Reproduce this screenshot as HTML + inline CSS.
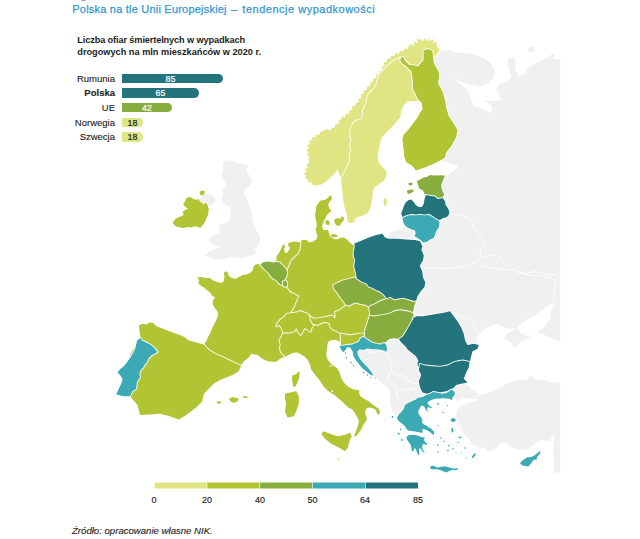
<!DOCTYPE html>
<html lang="pl">
<head>
<meta charset="utf-8">
<title>Polska na tle Unii Europejskiej – tendencje wypadkowości</title>
<style>
html,body{margin:0;padding:0;background:#fff;}
body{width:640px;height:539px;position:relative;overflow:hidden;font-family:"Liberation Sans",sans-serif;color:#222;}
.abs{position:absolute;white-space:nowrap;}
#title{left:72.3px;top:2.4px;font-size:11px;line-height:14px;color:#3397d0;-webkit-text-stroke:.25px #3397d0;letter-spacing:.21px;}
#head{left:77.3px;top:35.2px;font-size:9.2px;line-height:11.6px;font-weight:bold;color:#1d1d1b;}
.lab{right:525px;-webkit-text-stroke:.12px;font-size:9.5px;line-height:12px;color:#1d1d1b;text-align:right;}
.bar{left:122px;height:9.4px;border-radius:0 4.7px 4.7px 0;font-size:8.8px;line-height:11px;color:#fff;text-align:center;-webkit-text-stroke:.2px;overflow:hidden;}
.tick{-webkit-text-stroke:.15px;font-size:9px;line-height:11px;color:#1d1d1b;width:30px;text-align:center;top:494.5px;}
#src{-webkit-text-stroke:.12px;left:72px;top:524.6px;font-size:9.6px;line-height:11px;font-style:italic;color:#1d1d1b;}
svg{position:absolute;left:0;top:0;}
svg path{stroke:#fff;stroke-width:1.8;stroke-linejoin:round;paint-order:stroke fill;}
svg path.n{stroke:none;}
svg path.l{fill:none;stroke-width:.8;}
</style>
</head>
<body>
<svg width="640" height="539" viewBox="0 0 640 539">
<path d="M433.8,56.2 435.5,53.8 438.8,51.2 447.5,50 457.5,52.5 470,53.8 480,56.2 490,62.5 495,70 493.8,77.5 488.8,83.8 478.8,86.2 467.5,83.8 460,81.2 455,78.8 457.5,82.5 463.8,86.2 468.8,92.5 471.2,100 473.8,106.2 480,107.5 486.2,111.2 491.2,112.5 492.5,107.5 487.5,102.5 483.8,100 492.5,101.2 501.2,100 498.8,93.8 496.2,88.8 500,83.8 506.2,81.2 511.2,77.5 510,71.2 507.5,65 508.8,58.8 513.8,57.5 516.2,62.5 515,70 518.8,76.2 525,73.8 527.5,68.8 532.5,65 538.8,61.2 545,58.8 550,56.2 552.5,52.5 555,55 553.8,58.8 560.3,59.5 560.3,341.5 555,339.4 550,337.5 545,335 540,333.1 537.5,332.5 541.2,330 545,326.2 547.5,321.9 551.2,318.8 550,315 551.2,310 553.8,305.6 551.2,303.8 546.2,306.9 541.2,310.6 535,315 528.8,318.8 522.5,323.1 517.8,327.2 520,332.5 523.8,335 528.1,336.5 532.5,335.2 535,334 528.1,338.1 525,340 521.2,341.9 518.1,345 515.6,348.1 513.1,346.9 511.9,343.1 507.5,340.6 504.4,338.1 504.4,337.2 508.1,333.1 511.9,331.2 515,329.8 514.4,327.8 510,328.8 506.2,327.8 502.5,326.2 502.5,327.5 497.5,323.8 492.5,325 485,328.8 480,333.8 476.2,340 478.8,345 470,345 440,335 410,322 403,300 405,270 412,240 420,241.9 416.2,240 408.8,240 401.2,240 395,239.4 390,240.4 387.5,236.9 389.4,233.8 392.5,231.2 397.5,230 402.5,229.4 405,225.6 408.8,222.5 410,225 430,200 440,182 445,177 450,173.8 456.2,168.8 458,167 456.2,165.5 447.5,162.5 438.8,161.2 430,150 425,100 430,60Z" fill="#f0f0f0" class="n"/>
<path d="M372.5,375.3 368.8,371.6 364.7,367.5 361.2,363.6 358.1,359.7 355.8,355.8 355,351.6 361.2,346.9 367.5,345.3 376.9,346.4 383.1,346.9 387,346.9 389.4,338.3 394.1,336.7 399.5,336.7 404.2,339.1 408.9,346.9 415.2,353.9 420.6,360.9 420.6,367.2 428,375 430,390 428,402 405,415 396.9,416.9 395,414.4 392.5,410.6 390.6,406.2 389.8,401.2 390,396.2 389.4,391.9 387.5,388.1 384.4,385 380.6,381.9 376.9,378.1 373.1,374.4Z" fill="#f0f0f0" class="n"/>
<path d="M450,388.8 455,385 462.5,383.8 467.5,385 472.5,390 480,395 490,392.5 500,387.5 508.8,382.5 518.8,380 527.5,379.5 531.2,375 533.8,378.8 542.5,380 552.5,382.5 560.3,382.5 560.3,472.5 554.2,472.5 554.2,460 553,450 554.2,440 553.8,433.8 552.5,435 550,441.2 543.8,440 538.8,440.6 535,443.8 528.8,448.8 522.5,450 516.2,448.8 510,446.2 505,442.5 500,443.8 497.5,447.5 493.8,450 488.8,451.2 483.8,447.5 480,448.8 476.2,446.2 471.2,443.8 468.8,438.8 465,435 461.2,430 460,425 457.5,420 456.2,413.8 457.5,410 461.2,406.2 466.2,403.8 473.8,401.2 478.8,399.2 470,398.2 462.5,398.8 457.5,401.2 455,397.5 452.5,393.8Z" fill="#f0f0f0" class="n"/>
<path d="M223.8,161.2 228.8,160 235,162.5 242.5,163.8 248.8,165 246.2,171.2 250,176.2 252.5,181.2 248.8,186.2 243.8,191.2 245,196.2 248.8,203.8 251.2,211.2 252.5,217.5 253.8,223.8 256.2,230 260,236.2 260,242.5 256.2,247.5 253.8,250 257.5,252.5 250,256.2 241.2,258 232.5,257 225,258.8 217.5,260 210,257.5 203.8,255 210,251.2 216.2,248.8 221.2,246.2 216.2,245 210,242.5 208.8,238.8 213.8,235 218.8,233.8 220,228.8 217.5,225 223.8,223.8 228.8,221.2 230,216.2 231.2,211.2 228.8,206.2 223.8,203.8 221.2,198.8 223.8,193.8 222.5,188.8 226.2,185 223.8,180 221.2,175 223.8,170 222.5,165Z" fill="#f0f0f0" class="n"/>
<path d="M202.5,195.6 206.2,193.8 210.6,194.4 214.4,197.5 215,201.9 212.5,205 208.8,205.6 207.5,204.4 205.6,202.2 203.8,204 201.2,202.2 200,200 201.2,197.5Z" fill="#f0f0f0" class="n"/>
<path d="M341.2,177.5 340,176.2 338.8,172.5 337.5,169.4 335.6,172.5 332.5,175.6 329.4,178.8 325,182.5 320,185 315,185.6 312.5,185.1 311.1,181.8 308.1,182.6 307.9,179 304.8,178.8 306.3,175.6 303.6,173.9 306.7,172.1 304.8,169 308,167.2 306.2,164.2 309.7,163.1 308.3,160 309.5,156.6 306.4,155.3 308.6,152.5 306,150.3 309.1,148.3 307,145.4 310.3,143.8 308.7,140.6 312.1,140.6 312.3,137 315.7,137.6 316.5,134.1 320,135.1 320,132.5 325,130 327.4,129.1 330.3,130.8 331.8,127.7 335.1,127.5 335.3,124.1 338.6,123.9 338.6,120.6 341.5,119.1 341.6,116.6 344.9,117.2 345.7,113.9 349,113.9 349.3,110.6 352.4,109.5 352,106.3 355.3,106.3 355.8,103 358.9,102.2 358.4,98.9 361.6,97.9 360.9,94.6 364.1,93.7 363.6,90.4 366.9,90 367.1,86.7 370.4,86.1 370.1,82.8 373.3,82 373,78.7 376.3,77.9 375.8,74.6 378.9,74.4 379.5,71.1 382.5,69.9 381.5,66.8 384.5,65.4 383.6,62.1 386.9,61.9 387.1,58.6 390.2,58.7 391.2,55.6 394.5,56.2 395.5,53 398.8,53.9 400,50.8 403.2,51.6 404.4,48.4 407.6,49 408.8,46.2 408.8,46.2 410.2,44.6 414.2,46 413.7,41.8 417.8,42.9 416.8,38.8 420.9,39.8 420.9,37.5 422.3,41.5 425,38.3 428,41.3 429.3,37.3 429.7,41 433.4,39.1 433.5,43.3 437.2,41.6 436.2,45.7 440.3,44.7 436.6,46.8 440,49.4 439.5,50 436.5,55 433.8,56.2 427.5,60 417.5,71.2 405,67.5 404.5,57.5 399,60 394,63.8 390.2,67.5 385.2,72.5 385.2,71.9 382.8,75 382.1,78.8 380.9,82.5 379.6,86.2 376.5,90 372.8,93.8 370.9,98.1 370.2,103.1 368.4,107.5 366.5,111.2 367.1,115 365.9,118.8 361.5,120 357.1,123.1 354.6,128.8 354,137 354.6,135 355.2,140 354,145 355.2,150 353.4,155 354,160 352.1,165 349.6,170 347.8,173.8 345.9,177.5Z" fill="#dfe583"/>
<path d="M341.9,177.5 343.8,173.8 345.6,170 348.1,165 350,160 349.4,155 351.2,150 350,145 351.2,140 350.6,135 350,137 350.6,128.8 353.1,123.1 357.5,120 361.9,118.8 363.1,115 362.5,111.2 364.4,107.5 366.2,103.1 366.9,98.1 368.8,93.8 372.5,90 375.6,86.2 376.9,82.5 378.1,78.8 378.8,75 381.2,71.9 381.2,72.5 386.2,67.5 390,63.8 395,60 400.5,57.5 400.5,57.5 405,62.5 411.2,67.5 416.2,80 417.5,92.5 420,101.2 407.5,101.2 403.8,105 401.2,111.2 400,117.5 395,123.8 390,128.8 385.6,133.1 381.9,137.5 380,142.5 379.4,147.5 378.1,152.5 377.5,157.5 378.8,162.5 381.9,166.2 385,169.4 386.9,172.5 386.2,176.2 384.4,180 381.2,182.5 377.5,185.2 374.4,187.5 373.1,190 372.5,195 371.9,200 371.2,205 370,208.8 368.1,212.5 364.4,215 360,216.2 355.6,218.1 354.4,221.9 351.2,223.1 348.1,222.5 347.5,218.8 346.2,212.5 344.4,206.2 343.1,200 342.5,193.8 341.9,187.5 341.2,181.2 341.2,177.5Z" fill="#dfe583"/>
<path d="M383.8,198.8 385.5,198 387,201.2 386.2,205.5 384.5,206.5 383.5,202.5Z" fill="#dfe583" class="n"/>
<path d="M400.8,57.8 403.3,57.1 405.2,60.9 409,64.7 413.4,65.3 417.9,66.6 420.4,63.4 423.5,60.3 423.5,50.8 427.3,48.9 432.4,50.8 433,55.2 433.6,61.5 435.5,66.6 438.7,71.6 439.3,76.7 438,83 440.6,88 443.1,93.1 444.4,98 438.8,85 442.5,92.5 445,100 446.2,107.5 448.8,116.2 453.8,123.8 457.5,130 456.2,137.5 451.2,146.2 446.2,152.5 445,157.4 442.2,159.5 438,161.6 433.8,163.8 429.5,165.4 425.3,167.3 421.1,168.7 415.8,170.4 414.1,168 411.3,165.2 406.3,162.3 404.2,156.7 403.5,148.3 403.1,147 402.5,138.8 403.8,134.4 406.9,131.2 410,127.5 413.8,122.5 417.5,117.5 420,112.5 422.5,109.4 421.9,103.1 421.2,102.5 417.5,98.8 415.6,93.8 413.4,90.6 412.6,85.5 413.1,81.7 412.2,76.7 411.5,71.6 408.4,68.5 405.2,65.3 402.1,63.4 400.2,60.3Z" fill="#b1c534"/>
<path d="M186.9,197.5 190,196.9 193.1,198.8 196.2,200 198.1,198.8 199.4,200.6 201.2,202.5 203.8,204.4 205.6,202.5 207.5,205 208.8,209.4 208.1,214.4 206.2,218.8 205,221.9 202.5,225.6 200,228.1 198.1,226.9 195,226.2 191.2,227.5 187.5,226.9 183.8,228.1 180,227.5 175.6,226.2 172.5,222.5 175,219.4 177.5,217.5 181.2,216.2 183.8,214.4 182.5,211.9 185,210 188.1,208.8 185.6,206.9 183.1,204.4 185,201.2Z" fill="#b1c534" class="n"/>
<path d="M199.4,191.9 201.9,190.6 205,191.2 204.4,193.8 202.5,195.6 200,194.4Z" fill="#b1c534" class="n"/>
<path d="M260.5,264.8 258.8,264 255.6,264.4 253.8,266.2 252.5,270.6 250,273.1 246.2,274.4 242.5,275 238.8,276.9 235.6,278.8 231.9,278.1 228.8,276.2 228.1,273.1 226.2,271.2 224,272.5 224.4,276.9 223.8,281.2 221.2,283.1 216.9,281.9 213.1,280.6 210,278.1 205.6,278.1 201.2,276.9 197.5,277.5 199.4,280.6 198.1,283.1 200.6,285.6 203.8,287.5 206.9,290 210,292.5 211.9,295.6 215,297.5 213.1,300 212.5,303.8 214.4,307.5 216.9,310.6 218.1,313.8 217.5,317 217.5,316.9 216.2,320 214.4,323.8 212.5,327.5 210.6,331.9 208.1,336.9 206.2,341.2 204.4,343.8 208.8,352.5 222.5,360 236.2,366.2 241.2,365.5 243.8,361.2 248.8,357.5 251.2,353.8 257.5,355 262.5,358.8 267.5,361.2 276.2,362 280,358.8 285.6,356.5 290,355 290,332.5 287.5,330 286.2,316.2 300,312.5 305,295 290,292.5 287.5,286.2 280,283.8 275,278.8 268.8,273.8 265.5,268.8 261.2,263Z" fill="#b1c534"/>
<path d="M292.5,375 295.6,374.4 298.5,371.5 299.5,371.9 299.4,375 298.8,378.8 297.5,382.5 295.6,386.2 293.1,386.9 292.5,382.5 291.9,378.1Z" fill="#b1c534" class="n"/>
<path d="M203.8,344.5 196.2,342.5 187.5,340 186.2,338.1 181.2,335.6 176.2,333.8 171.2,331.9 166.2,330 161.2,328.1 156.2,326.2 153.1,323.1 150,322.5 146.2,324.4 142.5,323.8 138.8,325.6 139.4,330 140,334.4 140.6,338.1 131.2,352.5 123.8,372.5 127.5,392.5 130,396.2 137.5,405 140,415 150,414.5 160,413.8 170,416.2 178.8,419.5 186.2,415 196.2,407.5 202.5,401.2 203,396.2 205,392.5 208.8,388.8 213.8,383.8 220,380 226.2,377.5 232.5,375 238.8,371.2 241.2,365.5 236.2,363.8 228.8,360 222.5,357 215,353.8 208.8,350Z" fill="#b1c534"/>
<path d="M228.8,398.8 232.5,397 238.8,398.8 237.5,401.2 233.8,403 230.5,401.2Z" fill="#b1c534" class="n"/>
<path d="M242.5,396 247,396.5 247.5,398 243.8,398Z" fill="#b1c534" class="n"/>
<path d="M216.2,402 219.5,401 221.5,402.5 218.5,404Z" fill="#b1c534" class="n"/>
<path d="M140.6,338.1 141.9,340.6 145,341.9 148.8,343.8 152.5,346.2 155.6,349.4 157.5,351.9 154.4,353.8 151.2,355.6 148.8,358.1 146.9,361.9 144.4,365 143.1,368.1 140.6,370 139.4,373.8 140,377.5 138.1,380 136.9,382 136.2,388.8 132.5,391.2 130,396.2 123.8,396.2 116.2,394.5 118.8,388.8 121.2,383.8 122.5,378.8 120,375 117.5,372.5 120.6,368.8 123.8,366.2 126.9,362.5 130,358.1 132.5,353.8 135,349.4 136.2,344.4 137.5,340Z" fill="#3baab5"/>
<path d="M300.6,242.5 301.9,240 305,239.8 308.1,241 308.8,242.5 311.2,241.9 312.5,241.9 315,240 316.9,238.8 318.1,230 328.1,230 329.8,236.2 331.2,237.5 336.2,239.4 340,238.1 343.8,237.5 347.5,240 350,242.5 352.5,245 355,244.6 360,250 360,305 350,306.2 340,320 313.8,318.8 307.5,316.2 300,315 292.5,316.2 290,314.5 294.5,307.5 297.5,300 298.8,296.2 300,296.2 296.9,294.4 293.1,292.5 290,290.6 287.5,287.5 286.2,285 285.2,285 285.2,280 285.9,273.8 285.4,270 287.1,266.2 289.6,260 294,255.6 298.4,250 299.6,242.5Z" fill="#b1c534"/>
<path d="M331.2,195 328.1,197.5 325,200 320.6,200.6 318.8,202.5 316.2,206.2 315.6,211.2 315,216.2 316.2,221.2 316.9,226.2 315.6,228.8 316.2,232.5 317.5,235.6 329.4,235.9 325,233.1 323.1,229.4 321.9,226.2 323.1,223.1 325,218.8 326.9,215 329.4,212.5 331.9,210.6 330,209.4 328.1,205 329.4,201.9 331.9,199.4Z" fill="#b1c534" class="n"/>
<path d="M325.6,220.6 328.1,220 330,223.1 328.8,225 326.2,224.8 325.4,222.5Z" fill="#b1c534" class="n"/>
<path d="M334.4,219.4 337.5,218.1 340,218.8 341.9,216.2 343.8,216.9 343.8,220.6 341.9,221.9 340.6,224.4 338.8,226.2 336.2,225 334.4,222.5Z" fill="#b1c534" class="n"/>
<path d="M330.6,235 333.8,234 337.2,235 337.5,236.9 333.8,237.2 331.2,236.9Z" fill="#b1c534" class="n"/>
<path d="M273.8,262.2 276.5,259.8 276.5,256.2 278.5,253.8 280.6,250 282.8,245.2 284,244 285,246.2 284,250 285.2,252.8 287.1,253.1 289,250 290.2,247.5 288.5,246.2 288.1,243.1 290,242.5 293.8,241.5 298.1,241.9 300.6,242.5 300,246.2 299.4,250 297.5,253.8 295,255.6 293.1,258.1 290.6,260 289.4,263.1 288.1,266.2 286.9,269.4 286.2,270 284.4,266.9 281.2,263.8 278.1,262.2Z" fill="#b1c534"/>
<path d="M260.5,264.8 262.5,262.5 265.6,261.7 269.5,261.7 273.4,262.5 276.6,261.7 279.7,262.5 282,264.8 284.4,267.2 286.3,269.5 287.1,272.7 286.7,275.8 285.5,278.1 284.4,280.5 283.2,282.8 282,285.2 280.1,284.4 277.7,282 275.8,279.7 273.4,278.9 271.5,277 269.5,274.2 267.6,271.9 265.2,269.9 262.9,267.6Z" fill="#88ad3f"/>
<path d="M283,281.6 285.5,280.3 287.2,282.7 287,285.9 284.4,286.9 282.7,284.5Z" fill="#88ad3f"/>
<path d="M285.6,356.5 292.5,353.1 296.9,352.5 297.5,352.5 297.5,352.5 301.2,354.4 305,356.9 308.1,360.6 310,365 311.2,369.4 313.8,373.1 316.9,376.9 319.4,380 321.9,383.8 324.4,387.5 327.5,390.6 331.2,393.1 335,395.6 338.8,398.8 342.5,401.9 345.6,405 348.8,408.1 351.2,408.8 353.8,411.2 355.6,414.4 357.5,417.5 358.8,421.2 358.1,425 356.9,428.8 355.6,432 354,436.5 357,435.5 359.4,432 361.2,429.4 362.5,426.2 364.4,423.1 366.2,421.2 366.9,418.1 365.6,415 365,411.9 366.2,408.8 368.8,407.5 372.5,408.1 375.6,410 376.9,413.1 378.8,415 380,411.9 378.8,408.8 375,406.2 370.6,403.1 367.5,400.6 363.8,398.8 360.6,396.2 358.8,393.1 359.4,390 358.1,390 353.8,389.4 349.4,387.5 345.6,384.4 342.5,380.6 340.6,376.2 339.4,371.9 336.9,368.1 333.1,365.6 330,362.5 327.5,359.4 326.2,355 326.9,350 327.5,345 328,342 331.2,340 336.2,340 341.2,342.5 343.8,337.5 343.8,330 335,328.8 327.5,321.2 320,321.2 313.1,320.6 307.5,320 301.2,320 288.8,323.8 283.1,332.5 281.9,336.2 279.4,340 280.6,344.4 280,348.8 281.2,352.5 284.4,355.6Z" fill="#b1c534"/>
<path d="M321.2,433.8 323.8,431.2 330,433.8 337.5,436.2 345,435 350,432.5 351.8,436.2 349.2,441.2 348,447.5 345,451.2 338.8,447.5 331.2,443.8 325,438.8Z" fill="#b1c534" class="n"/>
<path d="M285,393.8 290,392.5 296.2,391.2 298.8,396.2 298.8,403.8 296.2,411.2 293.8,416.2 287.5,417.5 285,411.2 286.2,403.8 285,398.8Z" fill="#b1c534" class="n"/>
<path d="M291.9,313.1 296.2,312.5 300.6,311.2 304.4,312.5 307.5,313.8 310,316.2 310.6,320 312.5,323.1 313.1,326.2 311.2,328.8 310.6,331.9 307.5,329.4 304.4,328.1 302.5,331.9 300.6,335 298.1,331.9 296.2,328.1 294.4,331.2 290.6,332.5 286.9,332.5 283.1,332.5 281.9,328.8 279.4,325 276.2,326.2 277.5,323.1 280.6,319.4 284.4,316.9 286.9,313.8Z" fill="#b1c534"/>
<path d="M310,316.2 313.8,318.8 318.8,318.1 323.8,317.5 328.8,316.2 332.5,315.6 335,318.8 335.6,315.6 335,311.9 340,310 343.1,307.5 346.9,305 349.5,305.5 353.4,303.1 355.8,302.3 360.5,303.9 365.2,304.7 369.1,307 369.8,312.5 369.8,315.6 368.3,320.3 366.7,325 365.2,329.7 364.4,333.6 359.7,333.6 355,334.4 350.3,335.2 345.6,334.4 340.9,333.6 336.9,331.2 332.5,329.4 330,326.2 329.4,323.1 325,321.9 321.2,323.1 317.5,325 313.1,324 312.5,323.1 310.6,320Z" fill="#b1c534"/>
<path d="M333.1,285.3 337,283 342.5,280.6 348.8,279.1 353.4,277.5 356.6,278.3 361.2,281.4 366.7,283.8 369.1,286.9 372.2,287.7 376.1,290 380,291.6 383.9,294.7 387,299.1 383.1,300.2 379.2,301.7 375.3,304.1 371.4,305.6 369.1,307.2 365.2,304.8 360.5,304.1 355.8,302.5 353.4,303.3 349.5,305.6 345.6,304.8 343.3,300.9 340.2,297 337,292.3 333.9,288.4Z" fill="#88ad3f"/>
<path d="M353.8,243.8 360,241.2 368.8,237.5 376.2,235 382.5,233.8 385,237.5 388.8,238.8 397.5,238.8 406.2,239.5 415,240 420,241.2 422.5,246.2 421.4,249.4 423.8,255.6 423,260.3 419.8,265.8 422.2,271.2 423,277.5 425.3,282.2 424.5,286.9 420.6,291.6 417.5,296.2 415.9,301.7 412.8,301.7 408.1,300.2 403.4,298.6 398.8,299.4 394.1,300.2 390.2,297.8 387,298.6 383.9,294.7 380,291.6 376.1,290 372.2,287.7 369.1,286.9 366.7,283.8 361.2,281.4 356.6,278.3 355.8,272.8 354.2,266.6 355,260.3 353.4,254.1 355,244.7Z" fill="#23747d"/>
<path d="M387,299.1 390.2,297.8 394.1,300.2 398.8,299.4 403.4,298.6 408.1,300.2 412.8,301.7 415.9,301.7 414.4,305.6 412.8,313.3 409.7,311.7 405,310.9 400.3,310.2 395.6,310.9 390.2,313.3 384.7,314.8 379.2,315.6 374.5,316.4 369.8,315.6 369.8,312.5 369.1,307 371.4,305.6 375.3,304.1 379.2,301.7 383.1,300.2Z" fill="#88ad3f"/>
<path d="M369.8,315.6 374.5,316.4 379.2,315.6 384.7,314.8 390.2,313.3 395.6,310.9 400.3,310.2 405,310.9 409.7,311.7 412.8,313.3 414.4,316.4 412,321.1 408.9,326.6 405.8,332 402.7,336.7 398.8,339.1 394.1,338.3 389.4,339.1 386.2,341.9 383.9,343 380.8,344.5 376.1,343.8 371.4,342.2 366.7,339.1 363.6,336.7 364.4,333.6 365.2,329.7 366.7,325 368.3,320.3Z" fill="#88ad3f"/>
<path d="M340.9,333.6 345.6,334.4 350.3,335.2 355,334.4 359.7,333.6 364.4,333.6 363.6,336.7 360.5,338.3 358.9,341.4 355.8,343 351.9,344.5 347.2,345 343.3,345.3 340.9,345.3 340.6,339.1Z" fill="#b1c534"/>
<path d="M339.4,346.1 343.3,345.6 347.2,345 351.9,344.5 355.8,343 358.9,341.4 360.5,338.3 363.6,336.7 366.7,339.1 371.4,342.2 376.1,343.8 380.8,344.5 383.9,343 386.2,344.5 387,348.4 387,352.3 384.7,351.6 381.6,350 376.9,349.2 372.2,349.2 367.5,348.4 363.6,350 359.7,349.2 357.3,351.6 358.1,355.5 360.5,359.4 363.6,363.3 367.5,367.2 371.4,371.9 373,375 372.2,375.8 369.8,374.2 365.9,371.1 362,368 358.9,364.1 355.8,360.2 353.4,356.2 352.7,351.6 350.3,347.7 347.2,346.9 345.6,350 343.3,352.3 340.9,349.2Z" fill="#3baab5"/>
<path d="M412.5,318.8 416.2,316.2 422.5,316.2 430,315 437.5,313.8 445,312.5 450,311.2 453.8,316.2 457.5,321.2 461.2,327.5 463.8,333.8 465,340 467.5,345 473.8,343.8 478.8,345 477.5,348.8 472.5,351.2 471.2,356.2 470,361.2 462.5,360 455,361.2 447.5,365 440,366.2 432.5,365.8 425,365 418.3,367.2 417.5,364.1 418.3,360.2 415.9,356.2 412,353.1 408.1,350 405,346.1 401.1,342.2 398.8,339.1 402.7,336.7 405.8,332 408.9,326.6 412,321.1 414.4,316.4Z" fill="#23747d"/>
<path d="M420,363.8 425,365.5 432.5,366.2 440,366.8 447.5,365.5 455,361.8 462.5,360.5 469.5,361.8 468.8,367.5 466.2,372.5 463.8,378.8 467.5,382.5 461.2,383.8 456.2,385 452.5,388.8 446.2,391.2 440,392.5 433.8,392.5 427.5,393.8 422.5,392.5 420,387.5 418.8,381.2 421.2,375 418.8,370Z" fill="#23747d"/>
<path d="M402.5,216.9 405.6,215.6 408.8,214.4 412.5,214 416.2,214.4 420,213.8 423.1,214.4 426.2,214.4 428.8,213.8 431.9,215.6 435,217.5 438.1,219.4 439.4,222.5 439.4,223.8 438.8,227.5 436.2,231.2 435,235 433.8,238.1 430,239.4 426.9,241.9 423.1,242.5 420.6,240 417.5,238.1 414.4,236.2 415.6,233.8 415,230.6 411.9,229.4 408.1,228.1 405,225.6 403.1,221.9 402.5,217.5Z" fill="#3baab5"/>
<path d="M402.5,210 403.8,206.2 405.6,202.5 408.8,200 411.2,199.4 413.8,201.9 415.6,205 418.8,206.9 421.9,206.9 423.8,203.8 424.4,199.4 425.6,195.6 428.1,194.4 431.2,195 435,195.6 438.1,198.1 442.5,197.5 445,201.2 445.6,205 447.5,207.5 449.4,211.2 448.8,215 446.2,217.5 443.1,218.1 440,220 438.1,219.4 435,217.5 431.9,215.6 428.8,213.8 426.2,214.4 423.1,214.4 420,213.8 416.2,214.4 412.5,214 408.8,214.4 405.6,215.6 402.5,216.9 401.2,213.8Z" fill="#23747d"/>
<path d="M416.9,181.2 420,179.4 423.8,177.5 426.9,176.9 430,175 433.8,175.6 437.5,175.6 441.2,175.2 445,175.6 443.1,180 441.2,185 441.9,190 444.4,194.4 442.5,197.2 438.1,198.1 435,195.6 431.2,195 427.5,194.4 424.4,193.8 423.1,190.6 419.4,188.8 418.1,185Z" fill="#88ad3f"/>
<path d="M406.9,190.6 410,189.8 413.8,189.4 413.5,191.2 411.2,193.1 408.1,194 407.2,192.5Z" fill="#88ad3f" class="n"/>
<path d="M408.1,183.5 410.6,182.5 412.5,183.1 412.2,185 409.4,185.5Z" fill="#88ad3f" class="n"/>
<path d="M396.9,418.1 398.8,414.4 401.2,411.9 403.8,408.8 405,405 408.1,403.1 411.9,401.2 415.6,399.4 418.8,397.5 422.5,396.9 426.2,395 430,393.8 433.1,391.9 436.2,392.5 439.4,393.1 442.5,393.8 446.2,393.1 449.4,391.2 451.2,389.4 453.1,390.6 455,393.1 454.4,395.6 452.5,397.5 451.9,400 449.4,398.8 446.2,398.5 443.1,398.1 440,398.8 436.9,398.5 434.4,399 431.9,399.8 429.4,401 427.5,402.5 428.1,404.4 430,406.2 432.5,408.1 430.6,408.1 428.1,406.9 426.9,409.4 428.1,411.9 426.2,410.6 425,408.1 423.8,406.2 421.9,405.6 420,407.5 418.8,410 418.1,412.5 419.4,415 421.2,417.5 422.5,420 421.9,422.5 423.8,424.4 426.2,425.6 428.8,427.5 431.2,428.8 433.1,430.6 434.4,433.1 433.8,435 431.9,433.8 430,431.9 427.5,430.6 425,429.4 422.5,428.8 422.5,433.1 418.8,432.2 415,431.5 411.2,431 408.1,430.6 406.2,428.8 405,426.2 403.1,424.4 400.6,422.5 398.1,420.6Z" fill="#3baab5"/>
<path d="M406.2,437.5 408.1,435.6 411.9,434.8 415.6,435 419.4,436.2 422.5,437.5 425,436.9 423.8,439.4 425,441.9 427.5,443.8 426.2,445 423.8,443.8 422.5,445 421.9,447.5 423.1,450 424.8,453.1 423.1,451.9 421.2,449.4 420,448.1 418.8,450 419.4,453.1 418.8,455.6 417.2,453.1 416.2,450 415,448.1 413.8,449.4 412.8,451.9 411.5,449.4 411.2,446.2 410,443.8 408.1,441.2 406.9,439.4Z" fill="#3baab5" class="n"/>
<path d="M430,467.5 431.9,465.6 434.4,466.2 437.5,467.5 440.6,466.9 443.8,466.2 447.5,466.9 451.2,468.1 454.4,468.8 457.5,468.1 458.1,469.4 455,470.2 451.9,470 448.8,471.2 446.2,472.5 443.1,471.2 440,470 436.2,469 433.1,469.4 430.6,468.8Z" fill="#3baab5" class="n"/>
<path d="M520,463.1 523.1,460 526.9,457.5 531.2,456.9 534.4,455.6 537.5,453.1 540.6,450.6 539.8,453.8 537.1,456.9 536.5,460 534,459.6 531.5,462.8 528.4,466.5 525,465.9 521.9,465.2Z" fill="#3baab5" class="n"/>
<path d="M450.6,419.4 453.1,418.1 455.6,419 455.4,421.2 453.1,422 451,421.2Z" fill="#3baab5" class="n"/>
<path d="M451.2,428.5 452.8,428.1 453.5,430.6 453,432.5 451.8,432.2Z" fill="#3baab5" class="n"/>
<path d="M471.9,457.5 473.1,454.8 475,453.1 475.8,454 474.4,456.5 472.8,458.2Z" fill="#3baab5" class="n"/>
<path d="M458.5,436.8 460.6,436.5 461.5,437.5 460,438.2 458.5,437.9Z" fill="#3baab5" class="n"/>
<path class="l" d="M386.9,351.2 388.8,356.2 390,361.2 391.9,366.2 391.2,371.2 388.8,375 386.9,378.8 385.6,382.5"/>
<path class="l" d="M391.2,371.2 395,373.8 398.8,376.2 402.5,375 406.2,377.5 408.8,381.2 412.5,383.1 417.5,383.8"/>
<path class="l" d="M386.9,378.8 391.2,382.5 395,385 396.9,390 396.2,395 398.8,400"/>
<path class="l" d="M396.9,390 402.5,390.6 407.5,388.8 412.5,390 417.5,387.5"/>
<path class="l" d="M365,350 370,351.9 376.2,352.5 381.2,350.6 386.9,351.2"/>
<path class="l" d="M450,213.8 460,215 470,218.8 473.8,227.5 480,236.2 486.2,243.8 480,250 481.2,257.5 488.8,256.2 497.5,255 502.5,261.2 510,266.2 516.2,272.5 525,273.8 535,271.2 545,273.8 555,275 560,277.5"/>
<path class="l" d="M481.2,257.5 475,262.5 465,266.2 455,267.5 445,268.8 435,267.5 426.2,267.5 423.8,270"/>
<path class="l" d="M477.5,265 495,268.8 515,270 527.5,275 545,276.2 556.2,280 553.8,290 555,297.5 550,303.8 552.5,307.5"/>
<path class="l" d="M453.8,312.5 461.2,316.2 468.8,318.8 473.8,325 478.8,332.5 480,338.8"/>
<circle cx="338.8" cy="459.0" r="0.8" fill="#b1c534"/>
<circle cx="331.0" cy="366.0" r="0.9" fill="#ffffff"/>
<circle cx="332.3" cy="391.0" r="0.9" fill="#ffffff"/>
<circle cx="438" cy="403.75" r="0.9" fill="#3baab5"/>
<circle cx="447.5" cy="405.6" r="0.6" fill="#3baab5"/>
<circle cx="443" cy="412.5" r="0.8" fill="#3baab5"/>
<circle cx="438" cy="425.6" r="0.7" fill="#3baab5"/>
<circle cx="458" cy="442.5" r="0.7" fill="#3baab5"/>
<circle cx="465" cy="448" r="0.8" fill="#3baab5"/>
<circle cx="448.75" cy="445.6" r="0.8" fill="#3baab5"/>
<circle cx="441" cy="438" r="0.8" fill="#3baab5"/>
<circle cx="438" cy="445" r="0.8" fill="#3baab5"/>
<circle cx="438" cy="452" r="0.7" fill="#3baab5"/>
<circle cx="453" cy="448.75" r="0.8" fill="#3baab5"/>
<circle cx="448" cy="450.6" r="0.8" fill="#3baab5"/>
<circle cx="444" cy="441.5" r="0.7" fill="#3baab5"/>
<circle cx="456" cy="452" r="0.6" fill="#3baab5"/>
<circle cx="461" cy="453" r="0.6" fill="#3baab5"/>
<circle cx="392.5" cy="417" r="0.9" fill="#3baab5"/>
<circle cx="400.6" cy="429.4" r="0.8" fill="#3baab5"/>
<circle cx="398.75" cy="433.75" r="1.0" fill="#3baab5"/>
<circle cx="401.9" cy="440" r="0.9" fill="#3baab5"/>
<circle cx="466" cy="458" r="0.6" fill="#3baab5"/>
<circle cx="531.2" cy="49.6" r="3.2" fill="#f0f0f0"/>
<circle cx="345.6" cy="353.0" r="0.7" fill="#3baab5"/>
<circle cx="346.4" cy="357.8" r="0.7" fill="#3baab5"/>
<circle cx="351.0" cy="362.5" r="0.8" fill="#3baab5"/>
<circle cx="353.4" cy="365.6" r="0.7" fill="#3baab5"/>
<circle cx="363.6" cy="372.7" r="0.8" fill="#3baab5"/>
<circle cx="367.5" cy="375.0" r="0.7" fill="#3baab5"/>
<circle cx="370.6" cy="377.3" r="0.6" fill="#3baab5"/>
<circle cx="375.3" cy="378.1" r="0.6" fill="#3baab5"/>
<g stroke="none">
<rect x="154.5" y="482.5" width="263.5" height="6" fill="#fff"/>
<rect x="154.5" y="482.5" width="52.2" height="6" fill="#dfe583"/>
<rect x="207.3" y="482.5" width="52.2" height="6" fill="#b1c534"/>
<rect x="260.1" y="482.5" width="52.1" height="6" fill="#88ad3f"/>
<rect x="312.8" y="482.5" width="52.3" height="6" fill="#3baab5"/>
<rect x="365.7" y="482.5" width="52.3" height="6" fill="#23747d"/>
</g>
</svg>
<div id="crop" class="abs" style="left:80.5px;top:-1.2px;width:5px;height:2.4px;border-radius:0 0 2.5px 2.5px;border:1px solid #666;border-top:0;box-sizing:border-box;opacity:.7"></div>
<div id="title" class="abs">Polska na tle Unii Europejskiej<span style="letter-spacing:1.1px"> – </span><span style="letter-spacing:.51px">tendencje wypadkowości</span></div>
<div id="head" class="abs"><span style="letter-spacing:-.12px">Liczba ofiar śmiertelnych w wypadkach</span><br>drogowych na mln mieszkańców w 2020 r.</div>

<div class="abs lab" style="top:72.5px">Rumunia</div>
<div class="abs lab" style="top:87px;font-weight:bold">Polska</div>
<div class="abs lab" style="top:101.5px">UE</div>
<div class="abs lab" style="top:116.5px">Norwegia</div>
<div class="abs lab" style="top:131px">Szwecja</div>

<div class="abs bar" style="top:73.8px;width:97px;padding-right:4px;background:#23747d">85</div>
<div class="abs bar" style="top:88.3px;width:77px;background:#23747d">65</div>
<div class="abs bar" style="top:103px;width:50px;background:#88ad3f">42</div>
<div class="abs bar" style="top:117.8px;width:21px;background:#dfe583;color:#1d1d1b">18</div>
<div class="abs bar" style="top:132.3px;width:21px;background:#dfe583;color:#1d1d1b">18</div>

<div class="abs tick" style="left:139px">0</div>
<div class="abs tick" style="left:192px">20</div>
<div class="abs tick" style="left:245px">40</div>
<div class="abs tick" style="left:297.5px">50</div>
<div class="abs tick" style="left:350px">64</div>
<div class="abs tick" style="left:403px">85</div>

<div id="src" class="abs">Źródło: opracowanie własne NIK.</div>
</body>
</html>
